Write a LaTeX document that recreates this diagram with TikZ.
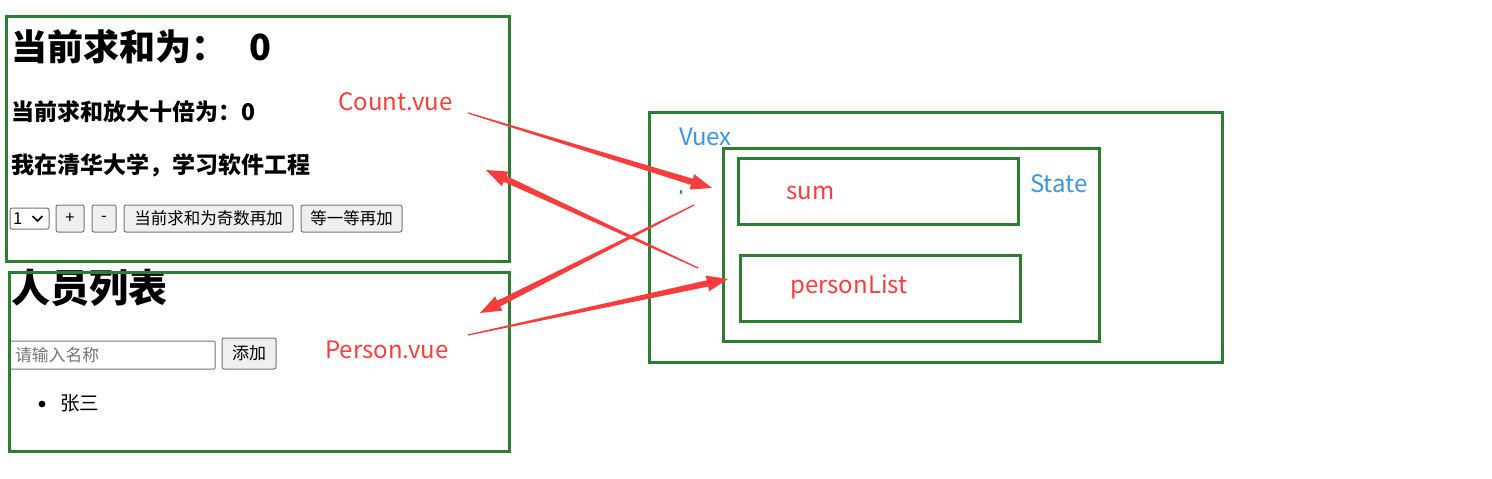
\documentclass[tikz,border=0pt]{standalone}
\usepackage{fontspec}
\setmainfont{Noto Sans CJK SC}
\usetikzlibrary{calc}
\definecolor{boxgreen}{RGB}{46,125,50}
\definecolor{lblred}{RGB}{250,62,62}
\definecolor{arrred}{RGB}{250,60,60}
\definecolor{lblblue}{RGB}{60,150,225}
\definecolor{btnfill}{RGB}{239,239,239}
\definecolor{btnline}{RGB}{118,118,118}
\definecolor{phgray}{RGB}{117,117,117}
\definecolor{dotteal}{RGB}{0,150,136}
\newcommand\brusharrow[2]{%
  \path ($(#2)!21pt!(#1)$) coordinate (ba-base);
  \fill[arrred] ($(#1)!0.6pt!90:(#2)$) -- ($(ba-base)!3.2pt!90:(#2)$) -- ($(ba-base)!8pt!90:(#2)$) -- (#2) -- ($(ba-base)!8pt!-90:(#2)$) -- ($(ba-base)!3.2pt!-90:(#2)$) -- ($(#1)!0.6pt!-90:(#2)$) -- cycle;}
\begin{document}
\begin{tikzpicture}[x=1pt,y=-1pt,
  gbox/.style={draw=boxgreen, line width=3pt, inner sep=0pt},
  txt/.style={inner sep=0pt, anchor=base west},
  btn/.style={draw=btnline, fill=btnfill, line width=1pt, rounded corners=2pt, inner sep=0pt, font=\fontsize{16.5}{18}\selectfont},
  redlbl/.style={txt, text=lblred, font=\fontsize{24}{28}\selectfont},
  bluelbl/.style={txt, text=lblblue, font=\fontsize{24}{28}\selectfont}]
\useasboundingbox (0,0) rectangle (1492,479);
\fill[white] (0,0) rectangle (1492,479);
% Count component
\node[txt, font=\bfseries\fontsize{36}{40}\selectfont] (h1) at (11,60) {当前求和为：\hspace{22pt}0};
\node[txt, font=\bfseries\fontsize{23}{26}\selectfont] (big) at (11,120) {当前求和放大十倍为：0};
\node[txt, font=\bfseries\fontsize{23}{26}\selectfont] (school) at (11,173.5) {我在清华大学，学习软件工程};
\node[btn, fill=white, minimum width=39pt, minimum height=21pt] (sel) at (29.5,218.5) {};
\node[txt, font=\fontsize{16.5}{18}\selectfont] (selnum) at (13,224.5) {1};
\draw[line width=1.5pt] (32.5,216) -- (37.5,221) -- (42.5,216);
\node[btn, minimum width=28pt, minimum height=27pt] (plus) at (70,218.5) {+};
\node[btn, minimum width=24pt, minimum height=27pt] (minus) at (104,218.5) {-};
\node[btn, minimum width=169pt, minimum height=27pt] (odd) at (208.5,218.5) {当前求和为奇数再加};
\node[btn, minimum width=101pt, minimum height=27pt] (wait) at (351.5,218.5) {等一等再加};
\node[gbox, minimum width=503pt, minimum height=245pt] (count) at (257.5,138.5) {};
% Person component
\node[txt, font=\bfseries\fontsize{39}{42}\selectfont] (ph) at (11,302) {人员列表};
\node[btn, fill=white, rounded corners=1pt, minimum width=206pt, minimum height=28pt] (inp) at (112,355) {};
\node[txt, text=phgray, font=\fontsize{16.8}{18}\selectfont] (placeholder) at (15,361) {请输入名称};
\node[btn, minimum width=54pt, minimum height=31pt, font=\fontsize{17}{18}\selectfont] (add) at (249,353.5) {添加};
\fill (42,404) circle (3.4pt);
\node[txt, font=\fontsize{19.5}{22}\selectfont] (zs) at (60,410) {张三};
\node[gbox, minimum width=500pt, minimum height=179pt] (person) at (259,361.5) {};
% Vuex
\node[gbox, minimum width=573pt, minimum height=250pt] (vuex) at (935.5,237) {};
\node[gbox, minimum width=376pt, minimum height=193pt] (state) at (911,244.5) {};
\node[gbox, minimum width=280pt, minimum height=66pt] (sum) at (878,191) {};
\node[gbox, minimum width=280pt, minimum height=66pt] (plist) at (880,288) {};
\node[bluelbl] (vuexlbl) at (679,145) {Vuex};
\node[bluelbl] (statelbl) at (1030,192) {State};
\node[redlbl] (sumlbl) at (786,199) {sum};
\node[redlbl] (plistlbl) at (790,293) {personList};
\node[redlbl] (countlbl) at (338,110) {Count.vue};
\node[redlbl] (personlbl) at (325,358) {Person.vue};
\fill[dotteal] (681,192) ellipse (1.2pt and 2pt);
% arrows
\coordinate (a1s) at (468,113); \coordinate (a1e) at (712,188);
\coordinate (a2s) at (698,268); \coordinate (a2e) at (486,170);
\coordinate (a3s) at (694,205); \coordinate (a3e) at (480,313);
\coordinate (a4s) at (468,335); \coordinate (a4e) at (728,279);
\brusharrow{a1s}{a1e}
\brusharrow{a2s}{a2e}
\brusharrow{a3s}{a3e}
\brusharrow{a4s}{a4e}
\end{tikzpicture}
\end{document}
